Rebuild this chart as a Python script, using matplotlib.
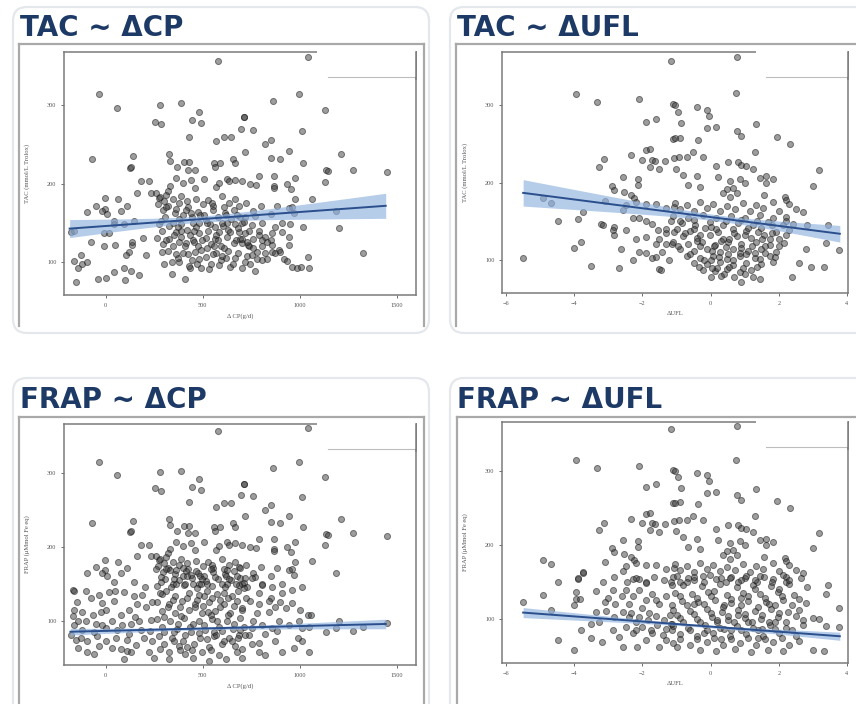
import numpy as np
import matplotlib
matplotlib.use("Agg")
import matplotlib.pyplot as plt
from matplotlib.patches import FancyBboxPatch, Rectangle
from matplotlib.lines import Line2D
from matplotlib.transforms import IdentityTransform

W, H = 856, 704

# ---- data ----
# TAC vs delta CP (g/d)
tac_cp = [
    (580, 357), (-35, 314), (60, 297), (282, 301), (390, 303), (253, 279), (284, 276), (479, 291),
    (445, 281), (489, 277), (428, 260), (569, 254), (610, 259), (646, 259), (711, 285),
    (-72, 232), (142, 235), (328, 238), (330, 229), (124, 220), (132, 221), (368, 221), (402, 228),
    (428, 228), (425, 218), (460, 218), (556, 227), (564, 221), (590, 227), (658, 232), (667, 226),
    (183, 203), (222, 203), (162, 188), (231, 188), (257, 188), (274, 182), (308, 186), (330, 197),
    (321, 191), (364, 207), (397, 201), (441, 205), (458, 195), (504, 206), (569, 196), (581, 201),
    (624, 206), (633, 203), (667, 205),
    (-3, 182), (63, 180), (108, 171), (80, 165), (-51, 172), (-3, 168), (-94, 164), (-17, 165),
    (9, 161), (43, 152), (-180, 139), (-162, 140), (-77, 126), (-9, 137), (17, 137), (43, 148),
    (94, 148), (145, 152), (-9, 120), (48, 122), (137, 122), (133, 125), (120, 113), (103, 109),
    (191, 131), (-162, 101), (-145, 92), (-120, 97), (-94, 100), (-128, 109), (-154, 75), (-38, 78),
    (0, 80), (43, 87), (94, 92), (97, 77), (128, 89), (171, 83),
    (205, 109), (291, 113), (342, 100), (376, 100), (342, 85), (410, 78), (436, 93), (462, 113),
    (479, 104), (530, 91),
    (282, 183), (345, 180), (390, 184), (465, 181), (528, 179), (600, 184), (664, 180),
    (268, 174), (322, 171), (379, 175), (425, 170), (499, 174), (553, 171), (636, 175), (687, 172),
    (293, 166), (356, 163), (413, 167), (476, 164), (550, 166), (612, 163), (660, 167),
    (305, 157), (378, 155), (442, 158), (516, 154), (578, 157), (644, 155), (690, 158),
    (276, 148), (328, 146), (390, 149), (465, 145), (536, 148), (602, 146), (664, 149),
    (288, 140), (362, 138), (416, 141), (482, 137), (527, 140), (584, 138), (630, 141), (688, 138),
    (262, 131), (328, 129), (388, 132), (448, 128), (516, 131), (561, 129), (627, 132), (672, 128),
    (294, 123), (348, 121), (413, 124), (476, 120), (542, 123), (596, 121), (661, 124),
    (322, 114), (396, 112), (493, 115), (567, 112), (630, 114),
    (371, 105), (442, 103), (516, 106), (595, 103), (664, 105),
    (431, 95), (493, 93), (584, 96), (638, 94),
    (310, 170), (440, 162), (520, 150), (570, 135), (455, 125), (350, 135), (610, 118), (700, 150),
    (740, 140), (480, 150), (410, 120), (550, 110), (620, 160), (370, 145),
    (300, 178), (360, 168), (420, 178), (485, 160), (545, 175), (610, 170), (675, 160), (720, 175),
    (760, 165), (800, 172), (285, 152), (345, 150), (400, 160), (455, 140), (505, 160), (565, 145),
    (625, 150), (690, 130), (740, 120), (790, 140), (310, 128), (375, 126), (435, 135), (495, 128),
    (560, 120), (620, 105), (680, 112), (715, 100), (760, 118), (820, 112), (300, 97), (360, 110),
    (425, 110), (470, 98), (540, 98), (600, 108), (655, 98), (700, 93), (730, 108), (850, 128),
    (520, 118), (580, 128), (640, 138), (390, 140), (450, 150), (600, 150),
    (1041, 361), (995, 315), (862, 306), (1130, 294), (713, 285), (697, 270), (756, 269), (1012, 267),
    (851, 256), (818, 250), (715, 241), (943, 242), (853, 233), (895, 232), (1211, 238), (1017, 226),
    (1137, 217), (1147, 216), (1275, 218), (1450, 215), (1130, 202), (787, 210), (865, 210), (974, 207),
    (704, 203), (744, 199), (773, 198), (869, 197), (869, 194), (934, 200), (955, 193), (1064, 181),
    (974, 180), (882, 171), (946, 169), (960, 170), (1185, 165), (969, 162), (851, 161), (770, 159),
    (718, 158), (1017, 145), (1202, 143), (951, 148), (908, 150), (874, 145), (805, 150), (753, 147),
    (710, 151), (822, 132), (856, 137), (908, 139), (943, 132), (718, 137), (701, 124), (735, 122),
    (805, 120), (856, 122), (943, 122), (891, 115), (780, 104), (805, 103), (830, 104), (917, 104),
    (934, 102), (744, 98), (770, 88), (960, 94), (987, 92), (1004, 94), (1047, 92), (1043, 106),
    (1327, 112), (683, 143), (701, 130), (727, 126), (761, 130), (787, 134), (805, 128), (831, 126),
    (856, 113), (874, 111), (900, 113), (779, 113), (753, 109),
]

# TAC vs delta UFL
tac_ufl = [
    (-1.17, 357), (-3.94, 314), (-3.34, 304), (-2.10, 307), (-1.11, 301), (-1.90, 278), (-1.61, 282),
    (-1.11, 256), (-3.12, 230), (-3.26, 220), (-2.34, 235), (-2.0, 229), (-1.71, 229), (-1.64, 228),
    (-1.90, 242), (-1.79, 243), (-1.34, 228), (-1.08, 232), (-1.78, 220), (-1.50, 217), (-2.58, 207),
    (-2.14, 205), (-2.14, 197), (-2.89, 195), (-2.83, 190), (-2.53, 188), (-2.34, 184), (-2.24, 180),
    (-4.91, 180), (-4.67, 174), (-3.09, 176), (-3.75, 162), (-4.48, 150), (-3.89, 153), (-3.21, 147),
    (-3.17, 146), (-2.83, 143), (-2.83, 132), (-2.85, 139),
    (-2.49, 139), (-2.29, 154), (-2.10, 154), (-1.90, 150), (-1.71, 147), (-1.53, 139), (-1.32, 135),
    (-1.17, 150), (-1.08, 137), (-2.58, 165), (-2.49, 171), (-2.19, 175), (-1.90, 173), (-1.61, 173),
    (-1.32, 167), (-1.08, 169), (-4.02, 116), (-3.81, 124), (-3.50, 93), (-5.50, 103), (-2.68, 90),
    (-2.63, 114), (-2.29, 100), (-2.10, 111), (-1.90, 109), (-1.71, 103), (-1.61, 104), (-1.42, 111),
    (-1.22, 100), (-1.51, 89), (-1.46, 87), (-2.19, 128), (-1.90, 130), (-1.61, 121), (-1.32, 121),
    (-1.13, 121),
    (0.76, 361), (0.73, 315), (-0.41, 297), (-0.12, 294), (-0.04, 286), (-1.04, 300), (-0.97, 291),
    (-0.87, 277), (-0.12, 270), (0.15, 271), (0.76, 267), (0.90, 260), (1.34, 275), (1.94, 259),
    (2.33, 250), (-0.36, 255), (1.29, 239), (-0.89, 258), (-1.04, 257), (3.17, 216), (3.01, 196),
    (3.43, 145), (3.77, 113), (3.38, 122), (3.33, 91), (2.94, 91), (2.58, 96), (2.39, 78), (0.90, 72),
    (1.44, 76), (1.24, 78), (2.84, 145), (2.80, 115),
    (-0.94, 233), (-0.70, 233), (-0.52, 239), (-0.21, 233), (0.16, 221), (0.51, 226), (0.80, 226),
    (0.90, 223), (1.05, 221), (1.24, 217), (-1.01, 218), (-0.80, 210), (-0.65, 197), (-0.41, 208),
    (-0.31, 194), (0.22, 207), (0.56, 202), (0.85, 205), (1.0, 200), (0.66, 193), (0.35, 186),
    (0.56, 181), (0.76, 186), (0.47, 192), (1.46, 206), (1.63, 208), (1.83, 204), (1.63, 199),
    (1.58, 184), (2.17, 182), (2.21, 178),
    (-1.04, 174), (-0.70, 171), (-0.31, 175), (0.08, 172), (0.47, 170), (0.95, 174), (1.34, 171),
    (1.83, 175), (2.31, 172),
    (-0.89, 166), (-0.50, 163), (-0.12, 167), (0.27, 164), (0.71, 166), (1.15, 163), (1.53, 167),
    (2.02, 164), (2.50, 166), (2.70, 162),
    (-1.09, 157), (-0.65, 155), (-0.21, 158), (0.17, 154), (0.61, 157), (1.0, 155), (1.44, 158),
    (1.83, 154), (2.21, 156),
    (-0.84, 148), (-0.46, 146), (-0.02, 149), (0.37, 145), (0.81, 148), (1.24, 146), (1.68, 149),
    (2.12, 145), (2.41, 147),
    (-1.0, 140), (-0.60, 138), (-0.17, 141), (0.22, 137), (0.66, 140), (1.05, 138), (1.49, 141),
    (1.92, 137), (2.31, 139),
    (-0.80, 131), (-0.41, 129), (-0.02, 132), (0.37, 128), (0.76, 131), (1.19, 129), (1.58, 132),
    (2.02, 128),
    (-1.09, 123), (-0.65, 121), (-0.26, 124), (0.13, 120), (0.51, 123), (0.90, 121), (1.34, 124),
    (1.73, 120), (2.16, 122),
    (-0.89, 114), (-0.50, 112), (-0.12, 115), (0.27, 111), (0.66, 114), (1.10, 112), (1.49, 115),
    (1.92, 111),
    (-0.70, 105), (-0.31, 103), (0.08, 106), (0.47, 102), (0.85, 105), (1.29, 103), (1.73, 106),
    (-0.50, 97), (-0.12, 95), (0.27, 98), (0.66, 94), (1.05, 97), (1.49, 95), (1.83, 98),
    (-0.21, 88), (0.13, 86), (0.47, 89), (0.85, 85), (1.19, 88),
    (0.1, 118), (0.3, 125), (0.5, 108), (0.7, 135), (0.9, 116), (1.1, 142), (1.3, 110), (1.5, 127),
    (0.0, 100), (0.2, 90), (1.6, 118), (1.8, 135), (-0.3, 118), (-0.5, 140), (0.4, 82), (0.0, 78),
    (-0.9, 150), (-0.5, 152), (0.0, 143), (0.45, 150), (0.9, 152), (1.35, 150), (1.8, 145), (2.2, 150),
    (-0.75, 135), (-0.3, 133), (0.15, 140), (0.55, 127), (1.0, 133), (1.4, 136), (1.75, 128), (2.2, 133),
    (-0.95, 118), (-0.4, 125), (0.05, 112), (0.45, 117), (0.85, 110), (1.2, 118), (1.6, 110), (2.0, 118),
    (-0.6, 108), (-0.2, 100), (0.25, 104), (0.65, 100), (1.05, 108), (1.45, 102), (1.9, 104),
    (-0.35, 92), (0.05, 90), (0.55, 92), (0.95, 90), (1.35, 92), (0.3, 80), (0.7, 78), (1.0, 82),
    (-1.3, 140), (-1.5, 128),
]

# FRAP panels repeat the upper TAC points and add a dense lower cloud
frap_cp_low = [
    (-171, 142), (-165, 140), (-77, 130), (-34, 135), (17, 139), (-17, 124), (43, 126), (94, 139),
    (145, 133), (188, 135), (-162, 115), (-120, 112), (-68, 108), (-26, 112), (0, 115), (77, 108),
    (120, 115), (162, 122), (205, 119), (-171, 106), (-145, 99), (-162, 94), (-103, 99), (-51, 96),
    (-17, 94), (34, 99), (85, 94), (128, 96), (171, 99), (231, 101), (-179, 81), (-154, 74),
    (-128, 77), (-94, 72), (-43, 79), (0, 72), (51, 76), (111, 74), (154, 67), (197, 76), (239, 72),
    (-145, 63), (-94, 58), (-34, 66), (34, 63), (111, 59), (128, 58), (94, 48), (222, 58),
    (260, 170), (330, 168), (398, 171), (467, 167), (544, 170), (622, 168), (690, 171),
    (283, 159), (352, 157), (420, 160), (497, 156), (565, 159), (633, 157),
    (265, 147), (335, 145), (402, 148), (470, 144), (548, 147), (616, 145), (686, 148),
    (291, 136), (359, 134), (428, 137), (505, 133), (573, 136), (650, 134),
    (265, 125), (325, 123), (393, 126), (462, 122), (530, 125), (607, 123), (675, 126),
    (291, 113), (359, 111), (428, 114), (496, 110), (565, 113), (642, 111),
    (265, 102), (333, 100), (402, 103), (479, 99), (547, 102), (624, 100), (693, 103),
    (291, 91), (368, 89), (436, 92), (513, 88), (581, 91), (658, 89),
    (274, 79), (342, 77), (410, 80), (487, 76), (556, 79), (633, 77), (684, 80),
    (299, 68), (376, 66), (453, 69), (530, 65), (598, 68), (667, 66),
    (325, 57), (410, 55), (496, 58), (581, 54), (675, 57), (325, 48), (530, 46),
    (310, 140), (380, 118), (450, 95), (520, 140), (590, 118), (660, 95), (350, 85), (420, 130),
    (490, 150), (560, 85), (630, 130), (700, 115), (300, 105), (400, 72), (470, 128), (540, 107),
    (610, 73), (680, 140), (360, 150), (500, 120), (575, 100), (445, 60), (520, 75),
    (280, 62), (350, 72), (420, 64), (480, 83), (540, 60), (600, 86), (650, 72), (700, 62), (740, 80),
    (790, 70), (300, 85), (370, 96), (440, 84), (505, 94), (570, 80), (630, 108), (690, 88), (760, 100),
    (820, 82), (880, 86), (320, 118), (390, 106), (460, 118), (525, 112), (590, 128), (660, 120),
    (720, 130), (780, 110), (840, 112), (900, 125), (280, 138), (345, 128), (410, 150), (480, 135),
    (545, 130), (610, 138), (670, 150), (730, 145), (790, 138), (850, 130), (-120, 88), (-60, 85),
    (0, 90), (60, 88), (120, 82), (180, 88), (230, 86), (-150, 125), (-100, 140), (50, 140), (200, 145),
    (240, 125), (150, 105), (80, 62), (-60, 55), (250, 50), (450, 50), (620, 48), (700, 50), (380, 60),
    (1133, 85), (1185, 90), (1202, 99), (1272, 86), (1327, 92), (1450, 97), (1043, 108), (1055, 108),
    (1012, 72), (1047, 58), (991, 76), (969, 63), (908, 58), (874, 72), (822, 54), (787, 58),
    (753, 69), (718, 81), (683, 76), (1012, 90), (1047, 92), (995, 99), (943, 94), (891, 99),
    (856, 90), (805, 94), (753, 90), (710, 92), (1003, 115), (960, 124), (926, 117), (874, 119),
    (839, 126), (787, 122), (744, 126), (701, 117), (1012, 146), (960, 142), (908, 137), (856, 146),
    (805, 148), (753, 158), (710, 144),
]

frap_ufl_low = [
    (-5.50, 122), (-4.91, 132), (-4.67, 112), (-4.48, 71), (-4.02, 57), (-3.81, 84), (-3.50, 74),
    (-3.19, 69), (-3.94, 136), (-3.94, 127), (-3.84, 126), (-4.02, 118), (-3.75, 163), (-3.89, 155),
    (-3.36, 138), (-3.17, 150), (-3.09, 123), (-3.36, 109), (-3.07, 111), (-3.26, 95), (-3.50, 93),
    (-2.83, 157), (-2.85, 139), (-2.80, 120), (-2.83, 102), (-2.87, 84), (-2.68, 75), (-2.58, 61),
    (-2.39, 102), (-2.29, 80), (-2.15, 62), (-1.90, 71), (-1.71, 80), (-1.51, 62), (-1.32, 71),
    (-1.13, 84), (-2.49, 139), (-2.29, 130), (-2.10, 139), (-1.90, 125), (-1.71, 134), (-1.51, 120),
    (-1.32, 130), (-1.13, 118), (-2.58, 109), (-2.34, 107), (-2.10, 102), (-1.85, 98), (-1.61, 104),
    (-1.37, 98), (-1.17, 93), (-2.44, 150), (-2.19, 155), (-1.90, 148), (-1.66, 157), (-1.37, 152),
    (-1.13, 146), (-2.49, 89), (-2.19, 84), (-2.0, 89), (-1.75, 84), (-1.56, 91), (-1.32, 86),
    (-1.13, 93),
    (-0.99, 158), (-0.50, 156), (-0.02, 159), (0.56, 155), (1.05, 158), (1.58, 156), (2.12, 159),
    (2.65, 155),
    (-0.80, 146), (-0.26, 144), (0.27, 147), (0.76, 143), (1.24, 146), (1.78, 144), (2.31, 147),
    (2.84, 143), (3.43, 146),
    (-1.04, 135), (-0.55, 133), (-0.07, 136), (0.47, 132), (0.95, 135), (1.44, 133), (1.97, 136),
    (2.45, 132), (3.38, 134),
    (-0.84, 124), (-0.36, 122), (0.13, 125), (0.61, 121), (1.10, 124), (1.63, 122), (2.12, 125),
    (2.80, 121),
    (-1.09, 112), (-0.60, 110), (-0.12, 113), (0.32, 109), (0.80, 112), (1.29, 110), (1.78, 113),
    (2.26, 109), (2.60, 112), (3.77, 114),
    (-0.89, 101), (-0.41, 99), (0.03, 102), (0.51, 98), (1.0, 101), (1.49, 99), (1.97, 102),
    (2.70, 98), (3.0, 101), (3.19, 99),
    (-1.09, 90), (-0.65, 88), (-0.17, 91), (0.27, 87), (0.76, 90), (1.24, 88), (1.73, 91),
    (2.21, 87), (3.38, 90), (3.77, 89),
    (-0.89, 79), (-0.41, 77), (0.08, 80), (0.56, 76), (1.05, 79), (1.53, 77), (2.02, 80), (2.50, 76),
    (-1.09, 67), (-0.60, 65), (-0.12, 68), (0.37, 64), (0.85, 67), (1.34, 65), (1.83, 68), (2.31, 64),
    (-0.31, 58), (0.17, 56), (0.71, 59), (1.19, 55), (1.68, 58), (2.12, 56), (2.99, 58), (3.33, 56),
    (0.2, 95), (0.4, 118), (0.6, 85), (0.9, 128), (1.1, 96), (1.3, 140), (1.5, 86), (1.7, 120),
    (0.0, 130), (-0.2, 80), (1.9, 95), (0.3, 72), (0.8, 105), (1.4, 74), (-0.5, 120), (2.0, 140),
    (-0.7, 150), (-0.2, 150), (0.3, 155), (0.8, 150), (1.3, 152), (1.8, 150), (2.3, 152),
    (-0.9, 130), (-0.4, 128), (0.1, 138), (0.6, 126), (1.1, 130), (1.6, 128), (2.1, 130), (2.6, 126),
    (-0.7, 118), (-0.2, 120), (0.35, 116), (0.9, 118), (1.4, 116), (1.9, 118), (2.4, 118),
    (-1.0, 105), (-0.5, 106), (0.0, 108), (0.5, 104), (1.0, 106), (1.5, 105), (2.0, 108), (2.5, 104),
    (-0.8, 95), (-0.3, 95), (0.2, 98), (0.7, 96), (1.2, 95), (1.7, 96), (2.2, 95), (2.7, 92),
    (-0.6, 84), (-0.1, 84), (0.4, 86), (0.9, 84), (1.4, 84), (1.9, 86), (2.4, 84),
    (-0.9, 72), (-0.4, 72), (0.1, 74), (0.6, 72), (1.1, 74), (1.6, 72), (2.1, 74), (2.6, 70),
    (-2.4, 120), (-2.0, 115), (-1.6, 125), (-1.2, 105), (-2.2, 95), (-1.8, 108), (-1.4, 78),
    (-2.6, 130), (-3.0, 128), (-1.0, 62),
]

# fitted lines: x range, fitted y at ends, CI half-widths at 3 x positions
tac_cp_fit = dict(x=[-186, 1442], y=[142.7, 171.8], ci_x=[-186, 500, 1442], ci=[11.5, 4, 16])
tac_ufl_fit = dict(x=[-5.5, 3.79], y=[186.8, 134.2], ci_x=[-5.5, 0.5, 3.79], ci=[17, 4, 10.7])
frap_cp_fit = dict(x=[-182, 1442], y=[85, 95.5], ci_x=[-182, 500, 1442], ci=[4.5, 1.8, 6.5])
frap_ufl_fit = dict(x=[-5.5, 3.79], y=[108.2, 76.2], ci_x=[-5.5, 0.5, 3.79], ci=[6.8, 2, 5.5])

titles = ["TAC ~ ΔCP", "TAC ~ ΔUFL", "FRAP ~ ΔCP", "FRAP ~ ΔUFL"]
xlabels = ["Δ CP(g/d)", "ΔUFL", "Δ CP(g/d)", "ΔUFL"]
ylabels = ["TAC (mmol/L Trolox)", "TAC (mmol/L Trolox)", "FRAP (μMmol Fe eq)", "FRAP (μMmol Fe eq)"]
cp_ticks = [0, 500, 1000, 1500]
ufl_ticks = [-6, -4, -2, 0, 2, 4]
y_ticks = [100, 200, 300]

tac_cp = np.array(tac_cp)
tac_ufl = np.array(tac_ufl)
frap_cp = np.vstack([tac_cp[tac_cp[:, 1] >= 150], np.array(frap_cp_low)])
frap_ufl = np.vstack([tac_ufl[tac_ufl[:, 1] >= 150], np.array(frap_ufl_low)])

fig = plt.figure(figsize=(W / 100, H / 100), dpi=100)
ident = IdentityTransform()

# card outlines (pixel coords, top-left origin)
cards = [(13, 7, 429, 333), (450, 7, 872, 333), (13, 378, 429, 720), (450, 378, 872, 720)]
frames = [(19, 44, 424, 330), (456, 44, 880, 330), (19, 417, 424, 720), (457, 417, 880, 720)]
axes_px = [(64, 52, 416, 295), (502, 52, 848, 293), (64, 424, 416, 665), (502, 422, 848, 663)]

for (l, t, r, b) in cards:
    fig.patches.append(FancyBboxPatch((l, H - b), r - l, b - t, boxstyle="round,pad=0,rounding_size=14",
                                      transform=ident, fc="none", ec="#e4e7eb", lw=1.6, zorder=-2))
for (l, t, r, b) in frames:
    for xs, ys in [([l, l], [t, b - 4]), ([l, r], [t, t]), ([r, r], [t, b - 4])]:
        fig.lines.append(Line2D(xs, [H - v for v in ys], transform=ident, color="#a9a9a9", lw=1.6,
                                zorder=-1))

title_pos = [(20, 36), (457, 36), (20, 408), (457, 408)]
for (x, y), t in zip(title_pos, titles):
    fig.text(x / W, 1 - y / H, t, fontsize=20, fontweight="bold", color="#1d3a66",
             va="baseline", ha="left", family="DejaVu Sans")

panels = [
    (tac_cp, tac_cp_fit, (-215, 1598), (58, 368), cp_ticks),
    (tac_ufl, tac_ufl_fit, (-6.12, 4.03), (58, 368), ufl_ticks),
    (frap_cp, frap_cp_fit, (-215, 1598), (40, 366), cp_ticks),
    (frap_ufl, frap_ufl_fit, (-6.12, 4.03), (40, 366), ufl_ticks),
]

for i, (pts, fit, xl, yl, xt) in enumerate(panels):
    l, t, r, b = axes_px[i]
    ax = fig.add_axes([l / W, 1 - b / H, (r - l) / W, (b - t) / H])
    ax.set_facecolor("none")
    ax.scatter(pts[:, 0], pts[:, 1], s=19, c="#3c3c3c", alpha=0.5, edgecolors="#111111",
               linewidths=0.7, zorder=2)
    xs = np.linspace(fit["x"][0], fit["x"][1], 100)
    ys = np.interp(xs, fit["x"], fit["y"])
    coef = np.polyfit(fit["ci_x"], np.array(fit["ci"]) ** 2, 2)
    hw = np.sqrt(np.clip(np.polyval(coef, xs), 0, None))
    ax.fill_between(xs, ys - hw, ys + hw, color="#8fb2e0", alpha=0.65, lw=0, zorder=3)
    ax.plot(xs, ys, color="#2a4f8c", lw=1.4, zorder=4)
    ax.set_xlim(xl)
    ax.set_ylim(yl)
    ax.set_xticks(xt)
    ax.set_yticks(y_ticks)
    ax.tick_params(labelsize=4.5, colors="#555555", length=2.5, width=0.6, pad=3)
    for tl in ax.get_xticklabels() + ax.get_yticklabels():
        tl.set_family("Liberation Serif")
    for sp in ax.spines.values():
        sp.set_color("#7a7a7a")
        sp.set_linewidth(1.1)
    ax.set_xlabel(xlabels[i], fontsize=4.8, color="#555555", family="Liberation Serif", labelpad=4)
    ax.set_ylabel(ylabels[i], fontsize=4.8, color="#555555", family="Liberation Serif", labelpad=12)
    # blank legend box in the upper right corner
    x0 = 0.72 if i % 2 == 0 else 0.733
    ax.add_patch(Rectangle((x0, 0.897), 1.0 - x0, 0.11, transform=ax.transAxes, fc="white",
                           ec="none", zorder=5, clip_on=False))
    ax.plot([x0 + 0.03, 0.995], [0.897, 0.897], transform=ax.transAxes, color="#bdbdbd", lw=0.8,
            zorder=6, clip_on=False)
    ax.plot([1.0, 1.0], [0.89, 1.0], transform=ax.transAxes, color="#7a7a7a", lw=1.1, zorder=6,
            clip_on=False)

fig.savefig("out.png", dpi=100)
